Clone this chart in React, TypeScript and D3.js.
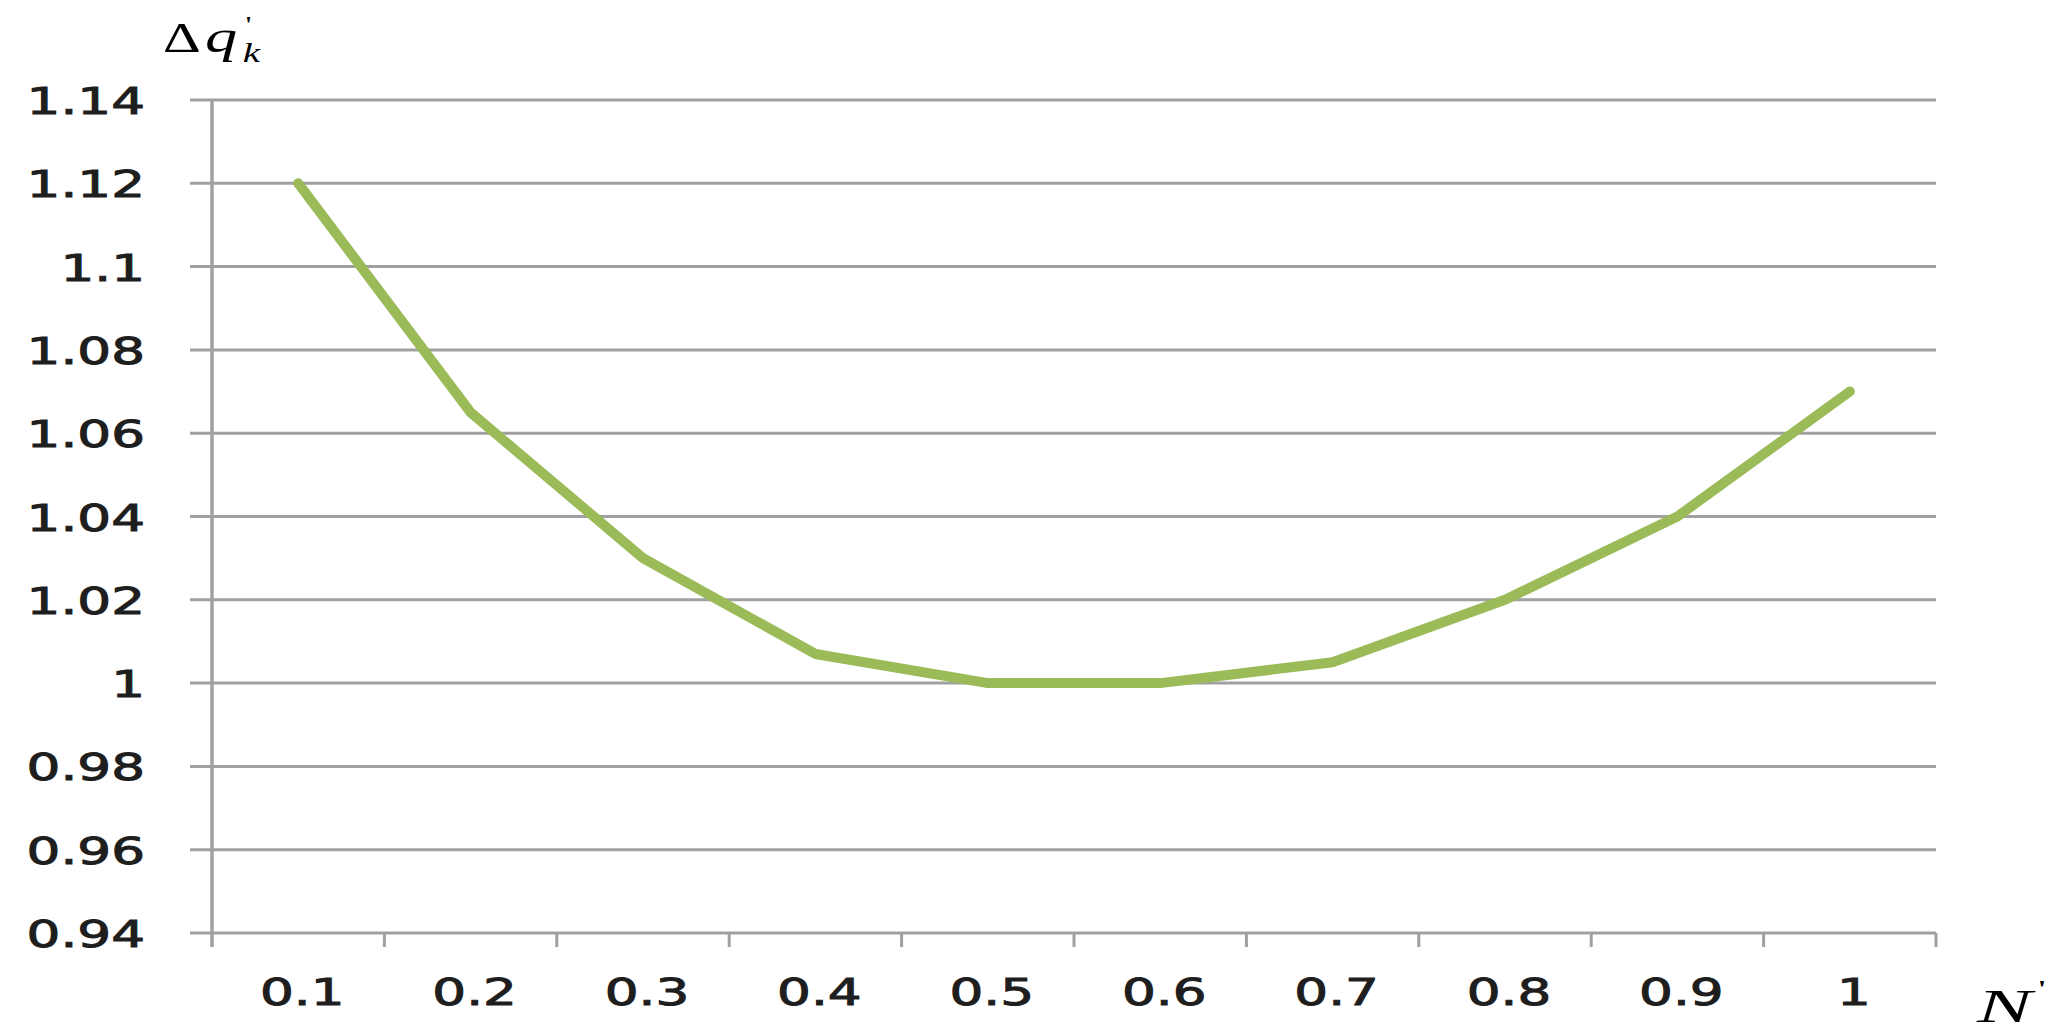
import React from "react";
import * as d3 from "d3";

const categories = ["0.1", "0.2", "0.3", "0.4", "0.5", "0.6", "0.7", "0.8", "0.9", "1"];
const values = [1.12, 1.065, 1.03, 1.007, 1.0, 1.0, 1.005, 1.02, 1.04, 1.07];
const yTicks = [0.94, 0.96, 0.98, 1.0, 1.02, 1.04, 1.06, 1.08, 1.1, 1.12, 1.14];
const yTickLabels = ["0.94", "0.96", "0.98", "1", "1.02", "1.04", "1.06", "1.08", "1.1", "1.12", "1.14"];

const W = 2061;
const H = 1034;
const left = 212;
const right = 1936;
const top = 100;
const bottom = 933;
const stretch = 1.4;
const gridColor = "#a0a0a0";
const lineColor = "#9bbb59";
const textColor = "#1e1e1e";

export default function App() {
  const x = d3.scaleBand<string>().domain(categories).range([left, right]).padding(0);
  const y = d3.scaleLinear().domain([0.94, 1.14]).range([bottom, top]);
  const line = d3
    .line<number>()
    .x((_, i) => (x(categories[i]) as number) + x.bandwidth() / 2)
    .y((d) => y(d));
  const boundaries = categories.map((c) => (x(c) as number)).concat([right]);

  return (
    <svg
      width={W}
      height={H}
      style={{ position: "absolute", left: 0, top: 0, background: "#fff" }}
      fontFamily="DejaVu Sans"
    >
      <rect x={0} y={0} width={W} height={H} fill="#fff" />
      {yTicks.map((t, i) => (
        <g key={"g" + i}>
          <line x1={190} x2={right} y1={y(t)} y2={y(t)} stroke={gridColor} strokeWidth={3} />
          <g transform={`translate(145,${y(t) + 14}) scale(${stretch},1)`}>
            <text textAnchor="end" fontSize={38} fill={textColor} stroke={textColor} strokeWidth={1}>
              {yTickLabels[i]}
            </text>
          </g>
        </g>
      ))}
      <line x1={left} x2={left} y1={top} y2={bottom + 14} stroke={gridColor} strokeWidth={3.5} />
      {boundaries.slice(1).map((bx, i) => (
        <line key={"t" + i} x1={bx} x2={bx} y1={bottom} y2={bottom + 14} stroke={gridColor} strokeWidth={3} />
      ))}
      {categories.map((c) => (
        <g key={c} transform={`translate(${(x(c) as number) + x.bandwidth() / 2 + 4},1005) scale(${stretch},1)`}>
          <text textAnchor="middle" fontSize={38} fill={textColor} stroke={textColor} strokeWidth={1}>
            {c}
          </text>
        </g>
      ))}
      <path
        d={line(values) || ""}
        fill="none"
        stroke={lineColor}
        strokeWidth={10}
        strokeLinejoin="round"
        strokeLinecap="round"
      />
      <g transform={`translate(163,52) scale(${stretch},1)`} fontFamily="Liberation Serif" fill="#000">
        <text fontSize={42}>Δ</text>
        <text x={30} fontSize={46} fontStyle="italic">q</text>
        <text x={57} y={10} fontSize={28} fontStyle="italic">k</text>
        <text x={59} y={-20} fontSize={24}>'</text>
      </g>
      <g transform={`translate(1977,1022) scale(1.75,1)`} fontFamily="Liberation Serif" fill="#000">
        <text fontSize={47} fontStyle="italic">N</text>
        <text x={35} y={-26} fontSize={24}>'</text>
      </g>
    </svg>
  );
}
